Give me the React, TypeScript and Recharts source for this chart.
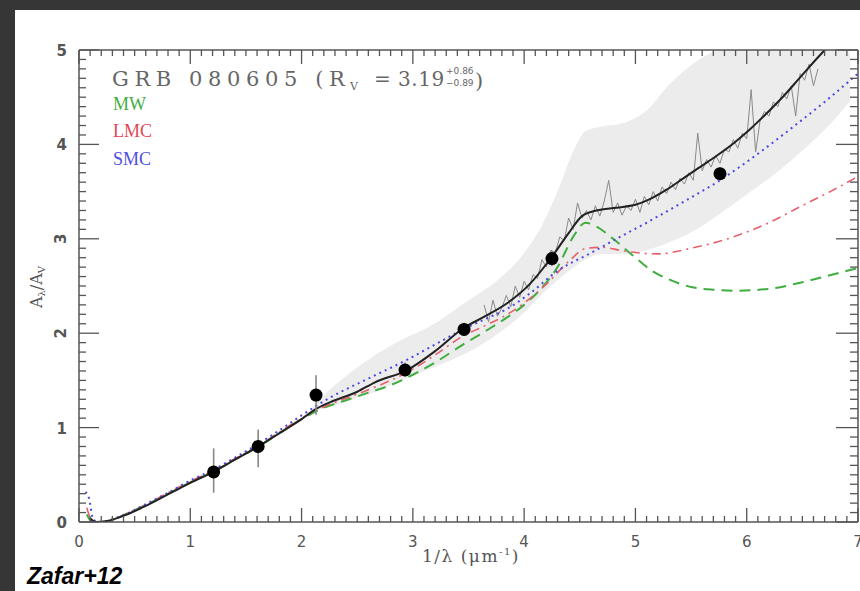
import React from 'react'
import { ComposedChart, Line, Area, Scatter, ErrorBar, XAxis, YAxis } from 'recharts'

// photometric points (1/lambda, A_lambda/A_V) with asymmetric errors
const POINT_X = [1.21, 1.61, 2.13, 2.93, 3.46, 4.25, 5.76]
const POINT_Y = [0.53, 0.8, 1.345, 1.61, 2.04, 2.79, 3.69]
const ERR_LO = [0.22, 0.22, 0.21, 0.07, 0.07, 0.08, 0.07]
const ERR_HI = [0.25, 0.18, 0.21, 0.08, 0.07, 0.08, 0.07]

// best fit (black solid)
const FIT_X = [0.1, 0.15, 0.25, 0.41, 0.6, 0.86, 1.0, 1.22, 1.4, 1.61, 1.8, 2.0, 2.12, 2.26, 2.5, 2.66, 2.95, 3.2, 3.45, 3.65, 3.85, 4.05, 4.25, 4.4, 4.52, 4.65, 4.83, 5.0, 5.13, 5.28, 5.43, 5.58, 5.73, 5.88, 6.03, 6.18, 6.33, 6.48, 6.6, 6.7, 6.8]
const FIT_Y = [0.04, 0.0, 0.01, 0.07, 0.17, 0.33, 0.415, 0.54, 0.66, 0.8, 0.94, 1.09, 1.19, 1.27, 1.38, 1.48, 1.61, 1.81, 2.05, 2.18, 2.32, 2.52, 2.81, 3.06, 3.24, 3.3, 3.33, 3.36, 3.42, 3.52, 3.64, 3.76, 3.88, 4.01, 4.16, 4.33, 4.51, 4.71, 4.87, 5.0, 5.14]

// MW (green dashed)
const MW_X = [0.07, 0.12, 0.2, 0.3, 0.45, 0.6, 0.8, 1.0, 1.2, 1.4, 1.6, 1.8, 2.0, 2.2, 2.4, 2.6, 2.8, 3.0, 3.2, 3.45, 3.65, 3.85, 4.0, 4.15, 4.3, 4.44, 4.55, 4.65, 4.8, 4.98, 5.15, 5.3, 5.5, 5.7, 5.9, 6.2, 6.5, 6.8, 7.0]
const MW_Y = [0.08, 0.0, -0.01, 0.02, 0.1, 0.18, 0.3, 0.42, 0.53, 0.66, 0.79, 0.94, 1.09, 1.21, 1.29, 1.37, 1.45, 1.56, 1.69, 1.88, 2.02, 2.17, 2.3, 2.47, 2.7, 3.02, 3.17, 3.13, 3.0, 2.82, 2.66, 2.57, 2.49, 2.46, 2.45, 2.47, 2.54, 2.63, 2.69]

// LMC (red dash-dot)
const LMC_X = [0.07, 0.12, 0.2, 0.3, 0.45, 0.6, 0.8, 1.0, 1.2, 1.4, 1.6, 1.8, 2.0, 2.2, 2.4, 2.6, 2.8, 3.0, 3.2, 3.45, 3.65, 3.85, 4.0, 4.2, 4.4, 4.56, 4.7, 4.9, 5.2, 5.5, 5.88, 6.2, 6.48, 6.75, 7.0]
const LMC_Y = [0.15, 0.01, -0.01, 0.02, 0.1, 0.18, 0.31, 0.43, 0.54, 0.67, 0.8, 0.95, 1.1, 1.22, 1.31, 1.4, 1.5, 1.62, 1.77, 1.97, 2.08, 2.2, 2.32, 2.52, 2.76, 2.9, 2.91, 2.87, 2.84, 2.9, 3.02, 3.17, 3.34, 3.5, 3.66]

// SMC (blue dotted)
const SMC_X = [0.06, 0.09, 0.13, 0.2, 0.3, 0.45, 0.6, 0.8, 1.0, 1.2, 1.4, 1.6, 1.8, 2.0, 2.26, 2.6, 2.95, 3.2, 3.45, 3.65, 3.85, 4.05, 4.3, 4.6, 4.83, 5.1, 5.4, 5.76, 6.1, 6.4, 6.7, 7.0]
const SMC_Y = [0.32, 0.25, 0.02, 0.0, 0.03, 0.1, 0.19, 0.31, 0.44, 0.55, 0.68, 0.82, 0.97, 1.13, 1.32, 1.52, 1.72, 1.88, 2.04, 2.15, 2.26, 2.42, 2.66, 2.85, 3.0, 3.17, 3.37, 3.62, 3.9, 4.17, 4.45, 4.75]

// uncertainty envelope (light gray band)
const BAND_X = [2.1, 2.3, 2.6, 2.9, 3.15, 3.5, 3.75, 4.0, 4.15, 4.3, 4.45, 4.55, 4.7, 4.9, 5.1, 5.3, 5.55, 5.8, 6.0, 6.2, 6.4, 6.6, 6.8, 6.93]
const BAND_LO = [1.17, 1.24, 1.35, 1.5, 1.62, 1.8, 1.98, 2.22, 2.4, 2.56, 2.7, 2.78, 2.84, 2.84, 2.88, 2.96, 3.1, 3.3, 3.47, 3.64, 3.83, 4.04, 4.28, 4.46]
const BAND_HI = [1.22, 1.45, 1.72, 1.93, 2.07, 2.35, 2.55, 2.85, 3.12, 3.5, 3.95, 4.14, 4.19, 4.23, 4.36, 4.63, 4.88, 5.05, 5.2, 5.35, 5.45, 5.45, 5.3, 4.95]

// afterglow spectrum (gray, noisy)
const SPEC_X = [3.64, 3.68, 3.72, 3.76, 3.8, 3.84, 3.88, 3.92, 3.96, 4.0, 4.04, 4.08, 4.12, 4.16, 4.2, 4.24, 4.28, 4.32, 4.36, 4.4, 4.44, 4.48, 4.52, 4.56, 4.6, 4.64, 4.68, 4.72, 4.76, 4.8, 4.84, 4.88, 4.92, 4.96, 5.0, 5.04, 5.08, 5.12, 5.16, 5.2, 5.24, 5.28, 5.32, 5.36, 5.4, 5.44, 5.48, 5.52, 5.56, 5.6, 5.64, 5.68, 5.72, 5.76, 5.8, 5.84, 5.88, 5.92, 5.96, 6.0, 6.04, 6.08, 6.12, 6.16, 6.2, 6.24, 6.28, 6.32, 6.36, 6.4, 6.44, 6.48, 6.52, 6.56, 6.6, 6.64]
const SPEC_Y = [2.3, 2.12, 2.35, 2.18, 2.27, 2.4, 2.28, 2.5, 2.38, 2.55, 2.46, 2.62, 2.58, 2.78, 2.7, 2.88, 2.85, 3.02, 2.98, 3.22, 3.1, 3.38, 3.22, 3.3, 3.2, 3.35, 3.24, 3.4, 3.62, 3.28, 3.38, 3.25, 3.35, 3.3, 3.42, 3.28, 3.45, 3.36, 3.5, 3.4, 3.55, 3.48, 3.6, 3.52, 3.64, 3.58, 3.7, 3.62, 4.12, 3.72, 3.84, 3.76, 3.88, 3.8, 3.95, 3.92, 4.05, 3.96, 4.12, 4.06, 4.58, 3.92, 4.25, 4.35, 4.3, 4.45, 4.4, 4.55, 4.48, 4.62, 4.3, 4.75, 4.68, 4.85, 4.62, 4.8]

const X_TICKS = Array.from({ length: 71 }, (_, i) => i / 10)
const Y_TICKS = Array.from({ length: 51 }, (_, i) => i / 10)

const AXIS = '#555'
const pairs = (xs: number[], ys: number[]) => xs.map((x, i) => ({ x, y: ys[i] }))

const points = POINT_X.map((x, i) => ({ x, y: POINT_Y[i], err: [ERR_LO[i], ERR_HI[i]] }))
const band = BAND_X.map((x, i) => ({ x, range: [BAND_LO[i], BAND_HI[i]] }))

const isMajor = (v: number) => Math.abs(v - Math.round(v)) < 1e-6

function BottomTick({ x, y, payload }: any) {
  const major = isMajor(payload.value)
  return (
    <g>
      <line x1={x} x2={x} y1={y} y2={y - (major ? 14 : 6)} stroke={AXIS} strokeWidth={1.3} />
      {major && (
        <text x={x} y={y + 25} textAnchor="middle" fontFamily="DejaVu Sans" fontSize={15} fill="#555">
          {Math.round(payload.value)}
        </text>
      )}
    </g>
  )
}

function TopTick({ x, y, payload }: any) {
  const major = isMajor(payload.value)
  return <line x1={x} x2={x} y1={y} y2={y + (major ? 14 : 6)} stroke={AXIS} strokeWidth={1.3} />
}

function LeftTick({ x, y, payload }: any) {
  const major = isMajor(payload.value)
  const v = Math.round(payload.value)
  const rotated = v === 2 || v === 3
  return (
    <g>
      <line x1={x} x2={x + (major ? 20 : 7)} y1={y} y2={y} stroke={AXIS} strokeWidth={1.3} />
      {major && (
        <text
          x={rotated ? x - 18 : x - 12}
          y={rotated ? y : y + 6}
          textAnchor={rotated ? 'middle' : 'end'}
          dominantBaseline={rotated ? 'central' : 'auto'}
          transform={rotated ? `rotate(-90 ${x - 18} ${y})` : undefined}
          fontFamily="DejaVu Sans"
          fontWeight="bold"
          fontSize={15}
          fill="#555"
        >
          {v}
        </text>
      )}
    </g>
  )
}

function RightTick({ x, y, payload }: any) {
  const major = isMajor(payload.value)
  return <line x1={x} x2={x - (major ? 22 : 8)} y1={y} y2={y} stroke={AXIS} strokeWidth={1.3} />
}

export default function App() {
  const axisLine = { stroke: AXIS, strokeWidth: 1.5 }
  return (
    <div style={{ position: 'absolute', left: 0, top: 0, width: 860, height: 591, background: '#363636' }}>
      <div style={{ position: 'absolute', left: 15, top: 10, width: 845, height: 581, background: '#fff' }} />
      <div style={{ position: 'absolute', left: 0, top: 0 }}>
        <ComposedChart width={860} height={591} margin={{ top: 49, right: 1, bottom: 68, left: 78 }}>
          <XAxis xAxisId="b" dataKey="x" type="number" domain={[0, 7]} ticks={X_TICKS} interval={0} height={1}
            tickSize={0} tickMargin={0} tickLine={false} tick={(p: any) => <BottomTick {...p} />} axisLine={axisLine} allowDataOverflow />
          <XAxis xAxisId="t" orientation="top" dataKey="x" type="number" domain={[0, 7]} ticks={X_TICKS} interval={0} height={1}
            tickSize={0} tickMargin={0} tickLine={false} tick={(p: any) => <TopTick {...p} />} axisLine={axisLine} allowDataOverflow />
          <YAxis yAxisId="l" type="number" domain={[0, 5]} ticks={Y_TICKS} interval={0} width={1}
            tickSize={0} tickMargin={0} tickLine={false} tick={(p: any) => <LeftTick {...p} />} axisLine={axisLine} allowDataOverflow />
          <YAxis yAxisId="r" orientation="right" type="number" domain={[0, 5]} ticks={Y_TICKS} interval={0} width={1}
            tickSize={0} tickMargin={0} tickLine={false} tick={(p: any) => <RightTick {...p} />} axisLine={axisLine} allowDataOverflow />

          <Area xAxisId="b" yAxisId="l" data={band} dataKey="range" type="monotone" stroke="none" fill="#ececec" fillOpacity={1} isAnimationActive={false} dot={false} activeDot={false} />
          <Line xAxisId="b" yAxisId="l" data={pairs(SPEC_X, SPEC_Y)} dataKey="y" type="linear" stroke="#8a8a8a" strokeWidth={1} dot={false} activeDot={false} isAnimationActive={false} />
          <Line xAxisId="b" yAxisId="l" data={pairs(MW_X, MW_Y)} dataKey="y" type="monotone" stroke="#3fae3f" strokeWidth={2} strokeDasharray="11 7" dot={false} activeDot={false} isAnimationActive={false} />
          <Line xAxisId="b" yAxisId="l" data={pairs(LMC_X, LMC_Y)} dataKey="y" type="monotone" stroke="#e8606c" strokeWidth={1.6} strokeDasharray="9 5 2 5" dot={false} activeDot={false} isAnimationActive={false} />
          <Line xAxisId="b" yAxisId="l" data={pairs(SMC_X, SMC_Y)} dataKey="y" type="monotone" stroke="#4a4ae0" strokeWidth={2} strokeDasharray="2 4" dot={false} activeDot={false} isAnimationActive={false} />
          <Line xAxisId="b" yAxisId="l" data={pairs(FIT_X, FIT_Y)} dataKey="y" type="monotone" stroke="#222" strokeWidth={2} dot={false} activeDot={false} isAnimationActive={false} />
          <Scatter xAxisId="b" yAxisId="l" data={points} dataKey="y" isAnimationActive={false}
            shape={(p: any) => <circle cx={p.cx} cy={p.cy} r={6.5} fill="#000" />}>
            <ErrorBar dataKey="err" direction="y" width={0} stroke="#888" strokeWidth={1.6} />
          </Scatter>
        </ComposedChart>
      </div>
      <svg width={860} height={591} style={{ position: 'absolute', left: 0, top: 0, pointerEvents: 'none' }}>
        <g fontFamily="DejaVu Serif" fill="#666">
          <text x={112} y={86} fontSize={21} letterSpacing={5.6}>GRB 080605 (R</text>
          <text x={350} y={90} fontSize={11}>V</text>
          <text x={374} y={86} fontSize={20} letterSpacing={0.5}>= 3.19</text>
          <text x={446} y={74} fontSize={9} fontFamily="DejaVu Sans">+0.86</text>
          <text x={446} y={86} fontSize={9} fontFamily="DejaVu Sans">−0.89</text>
          <text x={475} y={88} fontSize={21}>)</text>
        </g>
        <g fontFamily="Liberation Serif" fontSize={18}>
          <text x={113} y={110} fill="#3fae3f">MW</text>
          <text x={113} y={137} fill="#e0485a">LMC</text>
          <text x={113} y={165} fill="#5050e0">SMC</text>
        </g>
        <text transform="rotate(-90 42 287)" x={42} y={287} textAnchor="middle" fontFamily="DejaVu Serif" fontSize={16} fill="#555">
          A<tspan fontSize={10} dy={3}>λ</tspan>
          <tspan dy={-3}>/A</tspan>
          <tspan fontSize={10} dy={3}>V</tspan>
        </text>
        <text x={422} y={562} fontFamily="DejaVu Serif" fontSize={17} letterSpacing={1.5} fill="#555">
          1/λ  (μm<tspan fontSize={10} dy={-7}>-1</tspan><tspan dy={7}>)</tspan>
        </text>
        <text x={27} y={584} fontFamily="Liberation Sans" fontWeight="bold" fontStyle="italic" fontSize={23} fill="#000">
          Zafar+12
        </text>
      </svg>
    </div>
  )
}
